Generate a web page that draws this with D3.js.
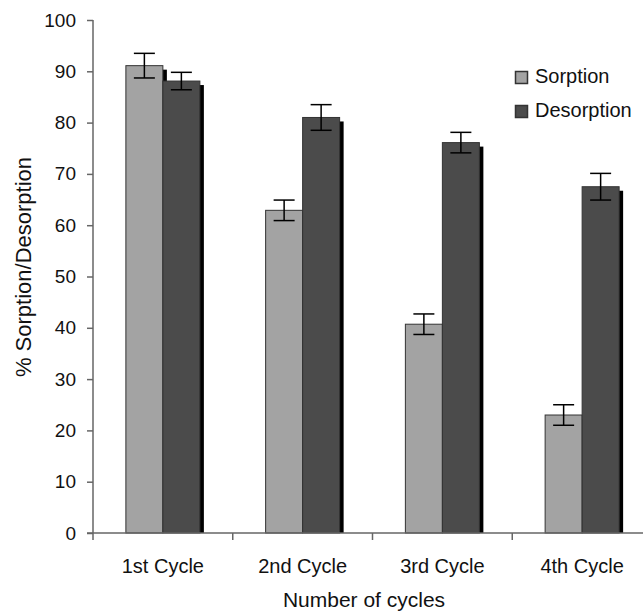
<!DOCTYPE html>
<html><head><meta charset="utf-8">
<script src="https://cdn.jsdelivr.net/npm/d3@7"></script>
<style>body{margin:0;background:#fff}</style>
</head><body>
<svg id="c" width="643" height="611"></svg>
<script>
const categories = ["1st Cycle","2nd Cycle","3rd Cycle","4th Cycle"];
const seriesNames = ["Sorption","Desorption"];
const sorption = [91.1, 62.9, 40.7, 23];
const sorptionErr = [2.4, 2, 2, 2];
const desorption = [88.1, 81, 76.1, 67.5];
const desorptionErr = [1.7, 2.5, 2, 2.6];
const yTicks = [0,10,20,30,40,50,60,70,80,90,100];

(function(){
const svg = d3.select("#c");
const font = "Liberation Sans, Arial, sans-serif";
const mLeft = 93, mRight = 652, mTop = 20, mBottom = 533;
const x = d3.scaleBand().domain(categories).range([mLeft, mRight]);
const y = d3.scaleLinear().domain([0,100]).range([mBottom, mTop]);
const colors = ["#a3a3a3", "#4b4b4b"];
const barW = 37;
const shadow = 4;

const series = [
  {vals: sorption, err: sorptionErr, off: -barW},
  {vals: desorption, err: desorptionErr, off: 0}
];

const gBars = svg.append("g");
series.forEach((s, si) => {
  categories.forEach((c, i) => {
    const cx = x(c) + x.bandwidth()/2 + s.off;
    const yt = y(s.vals[i]);
    gBars.append("rect").attr("x", cx + shadow).attr("y", yt + shadow)
      .attr("width", barW).attr("height", mBottom - yt - shadow).attr("fill", "#000");
    gBars.append("rect").attr("x", cx).attr("y", yt)
      .attr("width", barW).attr("height", mBottom - yt)
      .attr("fill", colors[si]).attr("stroke", "#333").attr("stroke-width", 1);
  });
});
series.forEach((s) => {
  categories.forEach((c, i) => {
    const cx = x(c) + x.bandwidth()/2 + s.off + barW/2;
    const y1 = y(s.vals[i] + s.err[i]), y2 = y(s.vals[i] - s.err[i]);
    const g = svg.append("g").attr("stroke", "#000").attr("stroke-width", 1.5);
    g.append("line").attr("x1", cx).attr("x2", cx).attr("y1", y1).attr("y2", y2);
    g.append("line").attr("x1", cx-10.5).attr("x2", cx+10.5).attr("y1", y1).attr("y2", y1);
    g.append("line").attr("x1", cx-10.5).attr("x2", cx+10.5).attr("y1", y2).attr("y2", y2);
  });
});

const yAxis = svg.append("g").attr("transform", `translate(${mLeft},0)`)
  .call(d3.axisLeft(y).tickValues(yTicks).tickSize(6).tickPadding(11));
yAxis.select(".domain").attr("stroke", "#666").attr("stroke-width", 1.5).attr("d", `M0,${mTop}V${mBottom}`);
yAxis.selectAll(".tick line").attr("stroke", "#666").attr("stroke-width", 1.5);
yAxis.selectAll(".tick text").attr("font-family", font).attr("font-size", 19).attr("fill", "#111");

const xAxis = svg.append("g").attr("transform", `translate(0,${mBottom})`)
  .call(d3.axisBottom(x).tickSize(0).tickPadding(25));
xAxis.select(".domain").attr("stroke", "#666").attr("stroke-width", 1.5).attr("d", `M${mLeft-6},0H643`);
xAxis.selectAll(".tick text").attr("font-family", font).attr("font-size", 20).attr("fill", "#111").attr("dy", "0");
categories.forEach(c => {
  svg.append("line").attr("x1", x(c)).attr("x2", x(c)).attr("y1", mBottom).attr("y2", mBottom + 7)
    .attr("stroke", "#666").attr("stroke-width", 1.5);
});
xAxis.selectAll(".tick text").attr("y", 40);

svg.append("text").attr("x", 364).attr("y", 607).attr("text-anchor", "middle")
  .attr("font-family", font).attr("font-size", 21).attr("fill", "#111").text("Number of cycles");
svg.append("text").attr("transform", `translate(31,267) rotate(-90)`)
  .attr("text-anchor", "middle").attr("font-family", font).attr("font-size", 22).attr("fill", "#111")
  .text("% Sorption/Desorption");

const leg = svg.append("g");
seriesNames.forEach((n, i) => {
  const ly = 77.5 + i * 34;
  leg.append("rect").attr("x", 515.5).attr("y", ly - 6).attr("width", 12).attr("height", 12)
    .attr("fill", colors[i]).attr("stroke", "#333").attr("stroke-width", 1.5);
  leg.append("text").attr("x", 535).attr("y", ly + 5.5).attr("font-family", font)
    .attr("font-size", 20).attr("fill", "#111").text(n);
});
})();
</script>
</body></html>
